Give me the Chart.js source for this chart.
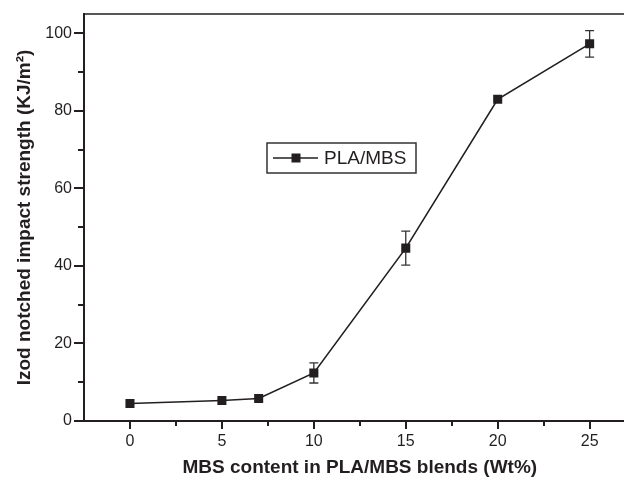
<!DOCTYPE html>
<html>
<head>
<meta charset="utf-8">
<script src="https://cdn.jsdelivr.net/npm/chart.js@4.4.0/dist/chart.umd.min.js"></script>
<style>
body { margin: 0; overflow: hidden; background: #fff; }
</style>
</head>
<body>
<canvas id="impactChart" width="642" height="483"></canvas>
<script>
// data
var mbsContent = [0, 5, 7, 10, 15, 20, 25];
var impactStrength = [4.5, 5.3, 5.8, 12.4, 44.6, 83.0, 97.3];
var impactError = [0, 0, 0, 2.6, 4.4, 0, 3.4];
var seriesName = 'PLA/MBS';

var ink = '#231f20';
var fontName = "'Liberation Sans', Arial, sans-serif";

var points = mbsContent.map(function(x, i) {
	return { x: x, y: impactStrength[i] };
});

// error bars, drawn under the markers
var errorBars = {
	id: 'errorBars',
	beforeDatasetsDraw: function(chart) {
		var ctx = chart.ctx;
		var xs = chart.scales.x, ys = chart.scales.y;
		ctx.save();
		ctx.strokeStyle = '#333';
		ctx.lineWidth = 1.3;
		mbsContent.forEach(function(x, i) {
			var e = impactError[i];
			if (!e) return;
			var px = xs.getPixelForValue(x);
			var top = ys.getPixelForValue(impactStrength[i] + e);
			var bot = ys.getPixelForValue(impactStrength[i] - e);
			ctx.beginPath();
			ctx.moveTo(px, top); ctx.lineTo(px, bot);
			ctx.moveTo(px - 4.5, top); ctx.lineTo(px + 4.5, top);
			ctx.moveTo(px - 4.5, bot); ctx.lineTo(px + 4.5, bot);
			ctx.stroke();
		});
		ctx.restore();
	}
};

// frame, major/minor ticks and the boxed legend
var frameAndLegend = {
	id: 'frameAndLegend',
	afterDraw: function(chart) {
		var ctx = chart.ctx, a = chart.chartArea;
		var xs = chart.scales.x, ys = chart.scales.y;
		ctx.save();
		ctx.strokeStyle = ink;
		ctx.lineWidth = 1.6;
		ctx.beginPath();
		ctx.moveTo(a.left, a.top); ctx.lineTo(a.right, a.top); ctx.lineTo(a.right, a.bottom);
		ctx.stroke();

		ctx.lineWidth = 2;
		ctx.beginPath();
		xs.ticks.forEach(function(t) {
			if (t.value <= xs.min || t.value >= xs.max) return;
			var p = Math.round(xs.getPixelForValue(t.value));
			var len = t.value % 5 === 0 ? 8 : 5;
			ctx.moveTo(p, a.bottom); ctx.lineTo(p, a.bottom + len);
		});
		ys.ticks.forEach(function(t) {
			if (t.value % 10 !== 0) return;
			var p = Math.round(ys.getPixelForValue(t.value));
			var len = t.value % 20 === 0 ? 10 : 6;
			ctx.moveTo(a.left, p); ctx.lineTo(a.left - len, p);
		});
		ctx.stroke();

		// legend box
		ctx.lineWidth = 1.5;
		ctx.strokeStyle = '#333';
		ctx.strokeRect(267, 143, 149, 30);
		ctx.strokeStyle = ink;
		ctx.beginPath();
		ctx.moveTo(273, 158); ctx.lineTo(318, 158);
		ctx.stroke();
		ctx.fillStyle = ink;
		ctx.fillRect(291.5, 153.5, 9, 9);
		ctx.font = '19px ' + fontName;
		ctx.textBaseline = 'middle';
		ctx.fillText(chart.data.datasets[0].label, 324, 158.5);
		ctx.restore();
	}
};

var config = {
	type: 'line',
	data: {
		datasets: [{
			label: seriesName,
			data: points,
			borderColor: ink,
			borderWidth: 1.6,
			backgroundColor: ink,
			pointStyle: 'rect',
			pointRadius: 6.4,
			pointBorderWidth: 0,
			tension: 0
		}]
	},
	options: {
		responsive: false,
		animation: false,
		layout: { padding: { top: 14, right: 4, left: 0, bottom: 0 } },
		plugins: {
			legend: { display: false },
			tooltip: { enabled: false }
		},
		scales: {
			x: {
				type: 'linear',
				min: -2.5,
				max: 27.5,
				afterFit: function(scale) {
					scale.height = 62;
					scale.paddingLeft = 0;
					scale.paddingRight = 0;
				},
				grid: { display: false, drawTicks: false },
				border: { display: true, color: ink, width: 2 },
				ticks: {
					stepSize: 2.5,
					autoSkip: false,
					maxRotation: 0,
					padding: 11,
					color: ink,
					font: { family: fontName, size: 16 },
					callback: function(v) { return v % 5 === 0 ? v : ''; }
				},
				title: {
					display: true,
					text: 'MBS content in PLA/MBS blends (Wt%)',
					color: ink,
					font: { family: fontName, size: 19, weight: 'bold' },
					padding: { top: 0, bottom: 4 }
				}
			},
			y: {
				min: 0,
				max: 105,
				afterFit: function(scale) {
					scale.width = 84;
					scale.paddingTop = 0;
					scale.paddingBottom = 0;
				},
				grid: { display: false, drawTicks: false },
				border: { display: true, color: ink, width: 2 },
				ticks: {
					stepSize: 10,
					autoSkip: false,
					padding: 12,
					color: ink,
					font: { family: fontName, size: 16 },
					callback: function(v) { return v % 20 === 0 ? v : ''; }
				},
				title: {
					display: true,
					text: 'Izod notched impact strength (KJ/m\u00b2)',
					color: ink,
					font: { family: fontName, size: 19, weight: 'bold' },
					padding: { top: 13, bottom: 0 }
				}
			}
		}
	},
	plugins: [errorBars, frameAndLegend]
};

var impactChart = new Chart(document.getElementById('impactChart'), config);
</script>
</body>
</html>
